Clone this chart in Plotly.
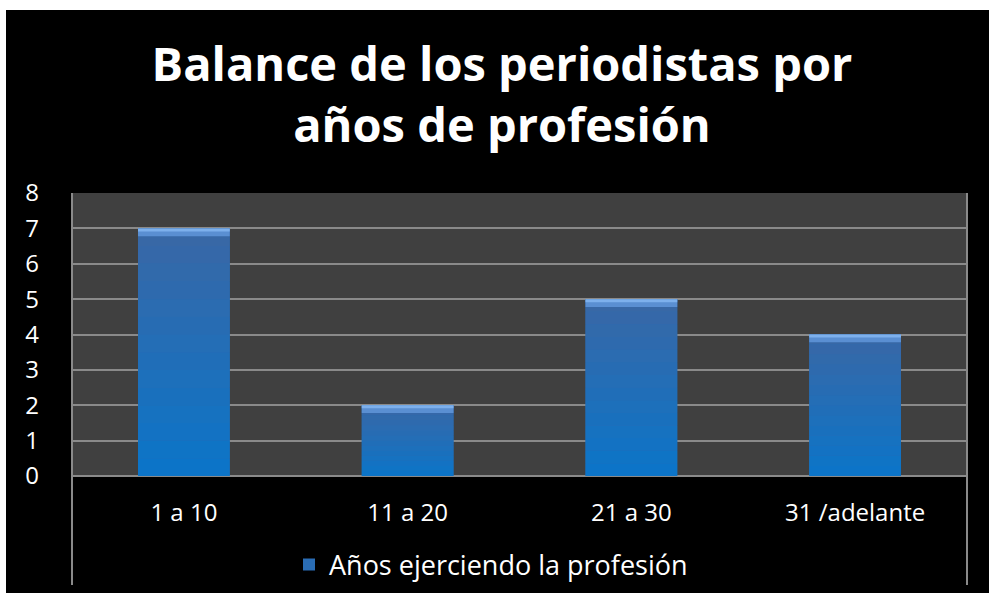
import plotly.graph_objects as go

categories = ["1 a 10", "11 a 20", "21 a 30", "31 /adelante"]
values = [7, 2, 5, 4]
series_name = "Años ejerciendo la profesión"
title_lines = ["Balance de los periodistas por", "años de profesión"]
y_ticks = [0, 1, 2, 3, 4, 5, 6, 7, 8]

W, H = 989, 593
L, R, T, B = 72, 22, 193, 117
pw, ph = W - L - R, H - T - B

def px_x(px):
    return (px - L) / pw

def px_y(py):
    return (H - B - py) / ph

fig = go.Figure()

# main bars (legend entry)
fig.add_trace(go.Bar(x=categories, y=values, name=series_name,
                     marker=dict(color="#2a6db5", line=dict(width=0)),
                     width=0.41, showlegend=True))

# gradient overlay slices (styling only, derived from values)
top_c = (0x3a, 0x67, 0xa5)
bot_c = (0x0a, 0x75, 0xc9)
N = 14
for i in range(N):
    f0, f1 = i / N, (i + 1) / N
    t = (i + 0.5) / N
    c = tuple(round(bot_c[k] + (top_c[k] - bot_c[k]) * t) for k in range(3))
    fig.add_trace(go.Bar(x=categories, y=[v * (f1 - f0) for v in values],
                         base=[v * f0 for v in values],
                         marker=dict(color="rgb(%d,%d,%d)" % c, line=dict(width=0)),
                         width=0.41, showlegend=False, hoverinfo="skip"))
# bevel on top
bev = 0.22
fig.add_trace(go.Bar(x=categories, y=[bev] * len(values), base=[v - bev for v in values],
                     marker=dict(color="#5a8fd2", line=dict(width=0)),
                     width=0.41, showlegend=False, hoverinfo="skip"))
fig.add_trace(go.Bar(x=categories, y=[bev * 0.4] * len(values), base=[v - bev * 0.4 for v in values],
                     marker=dict(color="#7db0ec", line=dict(width=0)),
                     width=0.41, showlegend=False, hoverinfo="skip"))

line_c = "#8a8a8a"
shapes = [
    # white strips at left and top of image
    dict(type="rect", xref="paper", yref="paper", x0=px_x(0), x1=px_x(6), y0=px_y(H), y1=px_y(0),
         fillcolor="white", line=dict(width=0), layer="below"),
    dict(type="rect", xref="paper", yref="paper", x0=px_x(0), x1=px_x(W), y0=px_y(10), y1=px_y(0),
         fillcolor="white", line=dict(width=0), layer="below"),
    # vertical frame lines extending into category area
    dict(type="line", xref="paper", yref="paper", x0=0, x1=0, y0=px_y(585), y1=1,
         line=dict(color=line_c, width=2)),
    dict(type="line", xref="paper", yref="paper", x0=1, x1=1, y0=px_y(585), y1=1,
         line=dict(color=line_c, width=2)),
]

FONT = "Open Sans"

fig.update_layout(
    width=W, height=H,
    margin=dict(l=L, r=R, t=T, b=B, autoexpand=False),
    paper_bgcolor="black",
    plot_bgcolor="#404040",
    barmode="overlay",
    bargap=0.59,
    shapes=shapes,
    font=dict(family=FONT, color="white"),
    title=dict(text="<b>" + "<br>".join(title_lines) + "</b>",
               x=px_x(502), xref="paper", xanchor="center",
               y=1 - 81 / H, yanchor="middle",
               font=dict(family=FONT, size=47, color="white")),
    xaxis=dict(showgrid=False, showline=False, zeroline=False, automargin=False,
               tickfont=dict(size=24, color="white"), ticklabelstandoff=20,
               fixedrange=True),
    yaxis=dict(range=[0, 8], tickvals=y_ticks, showgrid=True, gridcolor=line_c, gridwidth=2,
               zeroline=True, zerolinecolor=line_c, zerolinewidth=2, automargin=False,
               showline=False, tickfont=dict(size=24, color="white"),
               ticklabelstandoff=32, fixedrange=True),
    legend=dict(orientation="h", x=px_x(491), xanchor="center", y=px_y(565), yanchor="middle",
                font=dict(size=27, color="white"), bgcolor="rgba(0,0,0,0)"),
)

fig.write_html("out.html", config={"displayModeBar": False},
               post_script="document.body.style.margin='0';document.body.style.overflow='hidden';window.scrollTo(0,0);")
